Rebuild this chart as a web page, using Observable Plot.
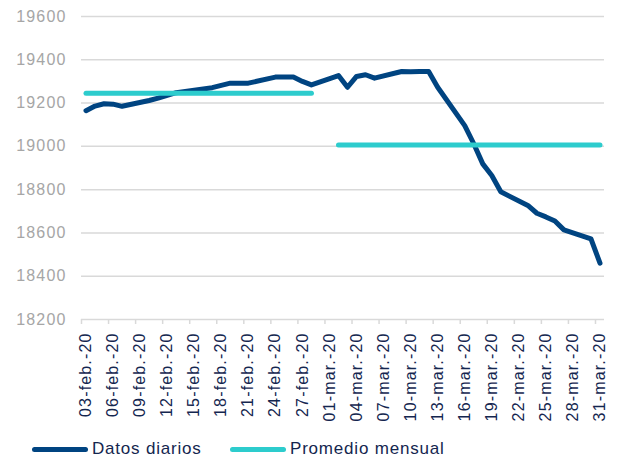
<!DOCTYPE html>
<html><head><meta charset="utf-8">
<script src="https://cdn.jsdelivr.net/npm/d3@7"></script>
<script src="https://cdn.jsdelivr.net/npm/@observablehq/plot@0.6"></script>
<style>
body{margin:0;background:#fff;font-family:"Liberation Sans",Arial,sans-serif;}
#wrap{position:relative;width:622px;height:463px;}
.lg{position:absolute;top:438px;height:22px;display:flex;align-items:center;font-size:17px;letter-spacing:0.8px;color:#14264f;}
.sw{display:inline-block;width:56px;height:5px;border-radius:3px;margin-right:4px;}
</style></head><body>
<div id="wrap"><div id="chart"></div>
<div class="lg" style="left:32px"><span class="sw" style="background:#004481"></span>Datos diarios</div>
<div class="lg" style="left:230px"><span class="sw" style="background:#2DCCCD"></span>Promedio mensual</div>
</div>
<script>
const dailyDates = ["2020-02-03","2020-02-04","2020-02-05","2020-02-06","2020-02-07",
"2020-02-10","2020-02-11","2020-02-12","2020-02-13","2020-02-14",
"2020-02-17","2020-02-18","2020-02-19","2020-02-20","2020-02-21",
"2020-02-24","2020-02-25","2020-02-26","2020-02-27","2020-02-28",
"2020-03-02","2020-03-03","2020-03-04","2020-03-05","2020-03-06",
"2020-03-09","2020-03-10","2020-03-11","2020-03-12","2020-03-13",
"2020-03-16","2020-03-17","2020-03-18","2020-03-19","2020-03-20",
"2020-03-23","2020-03-24","2020-03-25","2020-03-26","2020-03-27",
"2020-03-30","2020-03-31"];
const dailyValues = [19165,19186,19197,19195,19185,
19212,19223,19236,19248,19254,
19271,19282,19292,19292,19292,
19320,19320,19320,19300,19284,
19327,19273,19323,19331,19315,
19346,19345,19346,19346,19273,
19096,19012,18919,18865,18790,
18727,18691,18674,18655,18614,
18573,18460];
const monthStart = ["2020-02-03","2020-03-02"];
const monthEnd = ["2020-02-28","2020-03-31"];
const monthAvg = [19245,19006];
const yTicks = [18200,18400,18600,18800,19000,19200,19400,19600];
const xTickDates = ["2020-02-03","2020-02-06","2020-02-09","2020-02-12","2020-02-15","2020-02-18","2020-02-21","2020-02-24","2020-02-27","2020-03-01","2020-03-04","2020-03-07","2020-03-10","2020-03-13","2020-03-16","2020-03-19","2020-03-22","2020-03-25","2020-03-28","2020-03-31"];
const monthNames = {1:"feb.",2:"mar."};

const parse = d3.utcParse("%Y-%m-%d");
const HALF = 12*3600*1000;
const mid = s => new Date(+parse(s) + HALF);
const daily = dailyDates.map((d,i)=>({date: mid(d), value: dailyValues[i]}));
const avg = [];
monthAvg.forEach((v,i)=>{ avg.push({date: mid(monthStart[i]), value: v, m:i}); avg.push({date: mid(monthEnd[i]), value: v, m:i}); });
const tickBounds = xTickDates.map(parse);
const tickMids = xTickDates.map(mid);
const fmt = d => d3.utcFormat("%d")(d) + "-" + monthNames[d.getUTCMonth()] + "-" + d3.utcFormat("%y")(d);

const H = 428;
const chart = Plot.plot({
  width: 622, height: H,
  marginLeft: 81, marginRight: 18, marginTop: 16, marginBottom: H - 319,
  style: {fontFamily: '"Liberation Sans", Arial, sans-serif', fontSize: "16px", letterSpacing: "1.15px", background: "#fff"},
  x: {type: "utc", domain: [parse("2020-02-03"), parse("2020-04-01")]},
  y: {domain: [18200, 19600]},
  marks: [
    Plot.ruleY(yTicks, {stroke: "#d9d9d9", strokeWidth: 1.5}),
    Plot.axisY({ticks: yTicks, tickSize: 0, tickPadding: 15, tickFormat: d => String(d), fill: "#a6a6a6", label: null}),
    Plot.axisX({ticks: tickBounds, tickSize: 5, stroke: "#d9d9d9", strokeWidth: 1.5, tickFormat: () => "", label: null}),
    Plot.axisX({ticks: tickMids, tickSize: 0, tickPadding: 13, tickRotate: -90, tickFormat: fmt, fill: "#14264f", label: null}),
    Plot.line(daily, {x: "date", y: "value", stroke: "#004481", strokeWidth: 5, strokeLinejoin: "round", strokeLinecap: "round"}),
    Plot.line(avg, {x: "date", y: "value", z: "m", stroke: "#2DCCCD", strokeWidth: 5, strokeLinecap: "round"})
  ]
});
document.getElementById("chart").appendChild(chart);
</script>
</body></html>
